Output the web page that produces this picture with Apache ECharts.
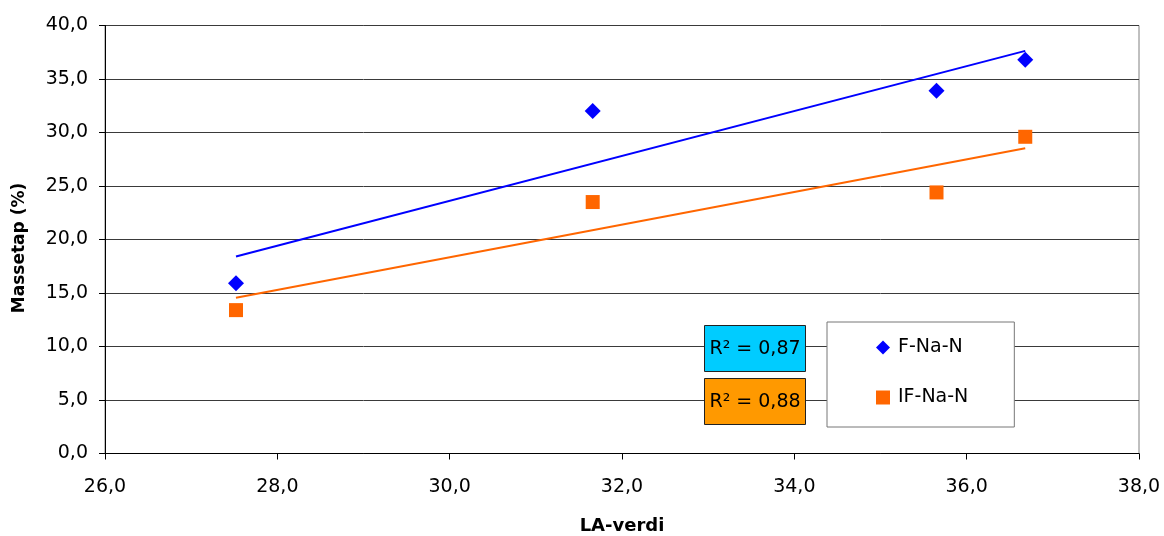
<!DOCTYPE html>
<html>
<head>
<meta charset="utf-8">
<script src="https://cdn.jsdelivr.net/npm/echarts@6/dist/echarts.min.js"></script>
<style>
html,body{margin:0;padding:0;background:#fff;}
#chart{width:1164px;height:536px;}
</style>
</head>
<body>
<div id="chart"></div>
<script>
// ---- data ----
var seriesNames = ['F-Na-N', 'IF-Na-N'];
var laVerdi = [27.52, 31.66, 35.65, 36.68];
var fNaN = [15.9, 32.0, 33.9, 36.8];
var ifNaN = [13.4, 23.5, 24.4, 29.6];
var xTicks = [26, 28, 30, 32, 34, 36, 38];
var yTicks = [0, 5, 10, 15, 20, 25, 30, 35, 40];
var xTitle = 'LA-verdi';
var yTitle = 'Massetap (%)';

function fmt(v) { return v.toFixed(1).replace('.', ','); }

function regress(xs, ys) {
  var n = xs.length, mx = 0, my = 0;
  for (var i = 0; i < n; i++) { mx += xs[i]; my += ys[i]; }
  mx /= n; my /= n;
  var sxy = 0, sxx = 0, syy = 0;
  for (var j = 0; j < n; j++) {
    sxy += (xs[j] - mx) * (ys[j] - my);
    sxx += (xs[j] - mx) * (xs[j] - mx);
    syy += (ys[j] - my) * (ys[j] - my);
  }
  var b = sxy / sxx, a = my - b * mx;
  var x0 = Math.min.apply(null, xs), x1 = Math.max.apply(null, xs);
  return { line: [[x0, a + b * x0], [x1, a + b * x1]], r2: sxy * sxy / (sxx * syy) };
}

var regF = regress(laVerdi, fNaN);
var regIF = regress(laVerdi, ifNaN);
function pts(ys) { return laVerdi.map(function (x, i) { return [x, ys[i]]; }); }
function r2Text(r) { return 'R\u00B2 = ' + r.r2.toFixed(2).replace('.', ','); }

var FONT = 'DejaVu Sans';
var BLUE = '#0000FF', ORANGE = '#FF6600';

var chart = echarts.init(document.getElementById('chart'), null, { renderer: 'canvas' });
chart.setOption({
  backgroundColor: '#ffffff',
  animation: false,
  textStyle: { fontFamily: FONT, color: '#000' },
  grid: {
    left: 105, right: 25, top: 25.5, bottom: 82.5,
    outerBoundsMode: 'none', containLabel: false,
    show: true, borderColor: '#808080', borderWidth: 1, backgroundColor: '#fff'
  },
  xAxis: {
    type: 'value', min: xTicks[0], max: xTicks[xTicks.length - 1], interval: 2,
    name: xTitle, nameLocation: 'middle', nameGap: 64,
    nameTextStyle: { fontFamily: FONT, fontWeight: 'bold', fontSize: 18, color: '#000' },
    axisLine: { show: true, onZero: false, lineStyle: { color: '#000', width: 1 } },
    axisTick: { show: true, length: 6, lineStyle: { color: '#000' } },
    axisLabel: { fontFamily: FONT, fontSize: 19, color: '#000', margin: 24, formatter: fmt },
    splitLine: { show: false }
  },
  yAxis: {
    type: 'value', min: yTicks[0], max: yTicks[yTicks.length - 1], interval: 5,
    axisLine: { show: true, onZero: false, lineStyle: { color: '#000', width: 1 } },
    axisTick: { show: true, length: 6, lineStyle: { color: '#000' } },
    axisLabel: { fontFamily: FONT, fontSize: 19, color: '#000', margin: 17, formatter: fmt },
    splitLine: { show: true, lineStyle: { color: '#3a3a3a', width: 1 } }
  },
  legend: {
    orient: 'vertical', left: 827, top: 322,
    data: [{ name: seriesNames[0], icon: 'diamond' }, { name: seriesNames[1], icon: 'rect' }],
    itemWidth: 14, itemHeight: 14, itemGap: 31,
    padding: [16, 46, 20, 49],
    backgroundColor: '#fff', borderColor: '#777', borderWidth: 1,
    textStyle: { fontFamily: FONT, fontSize: 19, color: '#000', padding: [0, 0, 0, 3] }
  },
  graphic: [
    { type: 'text', x: 20, y: 248, rotation: Math.PI / 2,
      style: { text: yTitle, font: 'bold 17px "DejaVu Sans"', fill: '#000', align: 'center', verticalAlign: 'middle' },
      silent: true, z: 10 },
    { type: 'rect', shape: { x: 704.5, y: 325.5, width: 101, height: 46 },
      style: { fill: '#00CCFF', stroke: '#222', lineWidth: 1 }, z: 10 },
    { type: 'text', x: 755, y: 349,
      style: { text: r2Text(regF), font: '19px "DejaVu Sans"', fill: '#000', align: 'center', verticalAlign: 'middle' }, z: 11 },
    { type: 'rect', shape: { x: 704.5, y: 378.5, width: 101, height: 46 },
      style: { fill: '#FF9900', stroke: '#222', lineWidth: 1 }, z: 10 },
    { type: 'text', x: 755, y: 402,
      style: { text: r2Text(regIF), font: '19px "DejaVu Sans"', fill: '#000', align: 'center', verticalAlign: 'middle' }, z: 11 }
  ],
  series: [
    { name: seriesNames[0], type: 'scatter', symbol: 'diamond', symbolSize: 16,
      itemStyle: { color: BLUE, opacity: 1 }, data: pts(fNaN), z: 5 },
    { name: seriesNames[1], type: 'scatter', symbol: 'rect', symbolSize: 14,
      itemStyle: { color: ORANGE, opacity: 1 }, data: pts(ifNaN), z: 5 },
    { name: 'trend1', type: 'line', data: regF.line, showSymbol: false, symbol: 'none',
      lineStyle: { color: BLUE, width: 2 }, z: 4, silent: true },
    { name: 'trend2', type: 'line', data: regIF.line, showSymbol: false, symbol: 'none',
      lineStyle: { color: ORANGE, width: 2 }, z: 4, silent: true }
  ]
});
</script>
</body>
</html>
